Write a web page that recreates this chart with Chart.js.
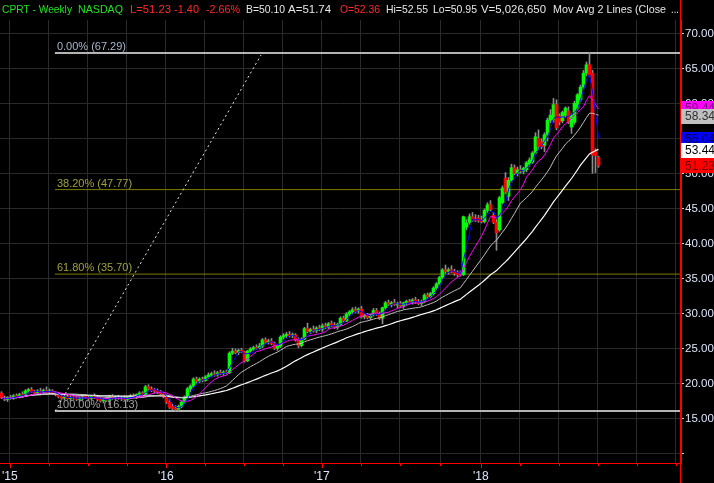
<!DOCTYPE html>
<html>
<head>
<meta charset="utf-8">
<script src="https://cdn.jsdelivr.net/npm/chart.js@4.4.0/dist/chart.umd.min.js"></script>
<style>
  html, body { margin: 0; padding: 0; background: #000; }
  #wrap { width: 714px; height: 483px; position: relative; }
</style>
</head>
<body>
<div id="wrap"><canvas id="chart"></canvas></div>
<script>
// weekly OHLC, CPRT, Dec 2014 -> Sep 2018
const openP = [
  18.7,18.0,17.8,18.1,18.0,18.3,18.2,18.5,18.4,19.0,
  19.2,18.9,18.7,19.0,18.8,19.1,18.9,19.0,18.6,18.5,
  18.2,18.0,18.2,17.9,18.1,18.0,17.8,18.0,18.2,18.0,
  17.9,18.3,18.0,17.8,17.6,17.9,17.7,18.2,18.0,18.1,
  17.9,18.0,17.8,18.1,18.3,18.2,18.5,18.7,18.3,19.6,
  19.3,19.1,19.0,18.9,18.6,18.2,17.4,16.8,16.5,16.4,
  16.8,17.4,18.1,19.3,19.7,20.7,20.4,20.7,20.5,21.0,
  21.3,21.4,21.3,21.6,21.5,21.7,21.6,24.4,24.7,24.5,
  24.8,24.6,23.3,24.7,25.0,25.2,25.1,25.4,26.3,26.0,
  26.1,25.8,25.1,25.4,26.7,26.9,27.1,26.9,27.0,26.3,
  25.5,26.4,27.9,27.5,27.8,27.6,28.0,27.8,28.3,28.1,
  28.6,28.4,28.1,28.5,29.4,29.0,30.0,30.3,30.6,30.4,
  30.7,29.6,29.8,29.5,29.9,30.5,30.0,29.4,30.9,31.6,
  31.4,31.6,31.3,31.5,31.2,31.6,31.8,31.6,32.0,31.7,
  31.5,31.8,32.7,32.5,32.9,33.7,34.3,35.2,36.3,36.1,
  36.3,36.0,35.8,36.0,35.6,42.4,43.1,43.9,43.6,43.7,
  43.5,43.2,44.8,45.6,44.1,43.1,42.0,45.9,49.4,46.8,
  49.1,50.9,50.1,50.6,50.4,50.6,51.4,51.7,53.0,55.1,
  54.6,54.1,55.6,57.7,57.7,59.9,58.3,57.6,58.4,59.0,
  56.7,57.4,59.4,60.6,62.4,64.4,65.6,64.4,53.2,52.36
];
const highP = [
  18.9,18.3,18.2,18.4,18.5,18.6,18.7,18.9,19.2,19.4,
  19.5,19.1,19.2,19.4,19.3,19.6,19.3,19.2,18.9,18.8,
  18.5,18.4,18.4,18.3,18.4,18.3,18.2,18.4,18.5,18.3,
  18.4,18.6,18.4,18.1,18.0,18.2,18.4,18.5,18.3,18.4,
  18.2,18.3,18.2,18.5,18.6,18.6,18.9,18.9,19.8,19.9,
  19.6,19.4,19.3,19.1,18.8,18.4,17.8,17.1,16.9,17.0,
  17.6,18.3,19.5,19.9,20.9,21.0,20.9,21.0,21.2,21.6,
  21.7,21.9,21.8,22.0,21.9,22.0,24.6,25.1,25.0,25.0,
  25.1,24.7,24.8,25.2,25.4,25.6,25.8,26.5,26.6,26.4,
  26.5,26.0,25.6,26.9,27.2,27.4,27.5,27.3,27.2,26.6,
  26.6,28.1,28.7,28.0,28.3,28.2,28.4,28.6,28.7,28.8,
  29.0,28.8,28.7,29.6,29.7,30.2,30.5,30.9,31.0,30.9,
  31.1,30.0,30.1,30.0,30.8,30.8,30.3,31.0,31.8,32.0,
  31.8,32.1,31.7,31.8,31.7,32.0,32.1,32.2,32.4,32.1,
  32.0,32.9,33.0,33.1,33.9,34.5,35.4,36.5,37.0,36.6,
  36.9,36.4,36.2,36.2,44.0,43.5,44.3,44.5,44.2,44.1,
  44.0,45.0,45.9,46.2,44.5,43.5,46.8,48.3,50.2,49.5,
  51.4,51.3,51.0,51.2,51.0,51.8,52.3,53.2,55.9,56.3,
  55.0,55.9,58.0,59.2,60.8,60.6,58.6,59.0,59.6,59.6,
  58.6,60.4,61.5,62.7,64.8,66.0,67.29,64.8,53.6,52.55
];
const lowP = [
  17.9,17.6,17.5,17.8,17.8,18.0,18.0,18.2,18.2,18.7,
  18.8,18.5,18.5,18.6,18.6,18.8,18.6,18.5,18.3,18.0,
  17.8,17.7,17.8,17.6,17.8,17.6,17.5,17.7,17.9,17.6,
  17.7,17.9,17.6,17.4,17.3,17.5,17.0,17.8,17.7,17.8,
  17.6,17.7,17.5,17.9,18.0,17.9,18.2,18.1,18.2,19.1,
  18.9,18.7,18.6,18.5,18.0,17.2,16.5,16.3,16.1,16.13,
  16.6,17.2,17.9,18.9,19.5,20.1,20.2,20.3,20.4,20.8,
  21.0,21.1,21.1,21.3,21.2,21.4,21.5,24.2,24.3,24.2,
  24.5,23.1,23.2,24.5,24.8,24.9,25.0,25.2,25.8,25.7,
  25.6,24.9,24.8,25.2,26.4,26.6,26.7,26.6,26.1,25.2,
  25.3,26.3,27.3,27.2,27.4,27.3,27.6,27.5,27.9,27.9,
  28.2,27.9,27.8,28.3,28.8,28.9,29.7,30.0,30.2,30.1,
  29.4,29.3,29.3,29.2,29.7,29.8,29.2,28.6,30.7,31.2,
  31.0,31.2,30.9,31.0,30.8,31.3,31.4,31.4,31.5,31.3,
  31.2,31.6,32.2,32.3,32.7,33.5,34.1,35.0,35.8,35.7,
  35.9,35.5,35.3,35.4,35.5,42.0,42.8,43.2,43.2,43.1,
  43.0,43.0,44.5,44.7,42.9,39.1,41.8,45.7,47.2,46.2,
  48.8,49.9,49.7,50.1,50.0,50.3,51.1,51.5,52.8,53.5,
  53.6,53.2,54.7,57.3,57.4,56.3,57.0,57.3,58.1,57.2,
  55.8,57.1,59.1,60.3,62.1,64.0,63.9,50.1,50.2,50.95
];
const closeP = [
  18.0,17.8,18.1,18.0,18.3,18.2,18.5,18.4,19.0,19.2,
  18.9,18.7,19.0,18.8,19.1,18.9,19.0,18.6,18.5,18.2,
  18.0,18.2,17.9,18.1,18.0,17.8,18.0,18.2,18.0,17.9,
  18.3,18.0,17.8,17.6,17.9,17.7,18.2,18.0,18.1,17.9,
  18.0,17.8,18.1,18.3,18.2,18.5,18.7,18.3,19.6,19.3,
  19.1,19.0,18.9,18.6,18.2,17.4,16.7,16.5,16.4,16.8,
  17.4,18.1,19.3,19.7,20.7,20.4,20.7,20.5,21.0,21.3,
  21.4,21.3,21.6,21.5,21.7,21.6,24.4,24.7,24.5,24.8,
  24.6,23.3,24.7,25.0,25.2,25.1,25.4,26.3,26.0,26.1,
  25.8,25.1,25.4,26.7,26.9,27.1,26.9,27.0,26.3,25.5,
  26.4,27.9,27.5,27.8,27.6,28.0,27.8,28.3,28.1,28.6,
  28.4,28.1,28.5,29.4,29.0,30.0,30.3,30.6,30.4,30.7,
  29.6,29.8,29.5,29.9,30.5,30.0,29.4,30.9,31.6,31.4,
  31.6,31.3,31.5,31.2,31.6,31.8,31.6,32.0,31.7,31.5,
  31.8,32.7,32.5,32.9,33.7,34.3,35.2,36.3,36.1,36.3,
  36.0,35.8,35.6,35.6,43.9,43.0,43.9,43.4,43.4,43.3,
  43.2,44.8,45.6,44.9,43.1,41.6,46.6,48.0,47.4,49.1,
  50.9,50.1,50.6,50.4,50.8,51.6,52.0,53.0,55.3,53.9,
  53.9,55.6,57.7,58.4,59.9,56.6,57.4,58.8,59.4,57.4,
  58.4,60.1,61.3,62.4,64.4,65.6,64.2,52.7,52.63,51.23
];

const maPeriods = [4, 10, 20, 40];
const maColors = ['#0000ff', '#ff00ff', '#c0c0c0', '#ffffff'];
const maLast = [55.04, 59.44, 58.34, 53.44];
const lastClose = 51.23;

const fibLevels = [67.29, 47.77, 35.70, 16.13];
const fibNames = ['0.00%', '38.20%', '61.80%', '100.00%'];
const fibStart = 17.8;
const trendLine = [{x: 17.9, y: 16.13}, {x: 86.5, y: 67.0}];

// week index of quarter starts, year labels on the first week of each year
const quarterTicks = [2.8, 15.8, 28.8, 41.8, 54.8, 67.8, 80.8, 93.8, 106.8, 119.8, 132.8, 146.2, 159.8, 172.8, 185.8, 198.8, 211.8, 224.8];
const yearTicks = [2.8, 54.8, 106.8, 159.8];
const yearLabels = ["'15", "'16", "'17", "'18"];
const yTicks = [10, 15, 20, 25, 30, 35, 40, 45, 50, 55, 60, 65, 70];

const FONT = 'Liberation Sans, Arial, sans-serif';

function sma(n) {
  return closeP.map((c, i) => {
    const s = Math.max(0, i - n + 1);
    let t = 0;
    for (let k = s; k <= i; k++) t += closeP[k];
    return {x: i, y: t / (i - s + 1)};
  });
}

const wickData = highP.map((h, i) => ({x: i, y: [lowP[i], h]}));
const bodyData = openP.map((o, i) => ({x: i, y: [o, closeP[i]]}));
const bodyColors = openP.map((o, i) => closeP[i] >= o ? '#00ff00' : '#ff0000');

const datasets = [];
maPeriods.forEach((n, k) => {
  datasets.push({
    type: 'line', data: sma(n), borderColor: maColors[k],
    borderWidth: k === 3 ? 1.2 : 1, pointRadius: 0, tension: 0, order: k + 1
  });
});
datasets.push({type: 'bar', data: bodyData, backgroundColor: bodyColors, barThickness: 3,
  grouped: false, minBarLength: 1, borderWidth: 0, order: 6});
datasets.push({type: 'bar', data: wickData, backgroundColor: '#8c8c8c', barThickness: 1,
  grouped: false, minBarLength: 1, borderWidth: 0, order: 7});
fibLevels.forEach((lv, k) => {
  const gray = (k === 0 || k === 3);
  datasets.push({
    type: 'line', data: [{x: fibStart, y: lv}, {x: 226.5, y: lv}],
    borderColor: gray ? '#b4b4b4' : '#7c7c00', borderWidth: gray ? 2 : 1,
    pointRadius: 0, order: 9
  });
});
datasets.push({type: 'line', data: trendLine, borderColor: '#e6e6e6', borderWidth: 1,
  borderDash: [2, 3], pointRadius: 0, order: 8});

// text, left x, max width, colour
const header = [
  ['CPRT - Weekly', 2, 70, '#22e022'], ['NASDAQ', 78, 45, '#22e022'],
  ['L=51.23', 130, 41, '#ff2a2a'], ['-1.40', 174, 25, '#ff2a2a'], ['-2.66%', 206, 34, '#ff2a2a'],
  ['B=50.10', 246, 39, '#e6e6e6'], ['A=51.74', 288, 44, '#e6e6e6'], ['O=52.36', 340, 40, '#ff2a2a'],
  ['Hi=52.55', 386, 42, '#e6e6e6'], ['Lo=50.95', 433, 44, '#e6e6e6'], ['V=5,026,650', 481, 65, '#e6e6e6'],
  ['Mov Avg 2 Lines (Close', 553, 113, '#e6e6e6'], ['...', 671, 8, '#e6e6e6']
];

const decor = {
  id: 'decor',
  beforeDatasetsDraw(chart) {
    const {ctx, scales: {x, y}} = chart;
    ctx.save();
    ctx.font = '11px ' + FONT;
    ctx.textBaseline = 'alphabetic';
    const cols = ['#a8b6cc', '#a0a040', '#a0a040', '#a0a0a0'];
    fibLevels.forEach((lv, k) => {
      ctx.fillStyle = cols[k];
      ctx.fillText(fibNames[k] + ' (' + lv.toFixed(2) + ')', x.getPixelForValue(fibStart) + 2, y.getPixelForValue(lv) - 3);
    });
    ctx.restore();
  },
  afterDraw(chart) {
    const {ctx, chartArea, scales: {x, y}} = chart;
    ctx.save();
    // header line
    ctx.font = '11.5px ' + FONT;
    ctx.textBaseline = 'alphabetic';
    header.forEach(([t, px, w, c]) => { ctx.fillStyle = c; ctx.fillText(t, px, 13, w); });
    // x tick marks
    ctx.strokeStyle = '#ff0000';
    ctx.lineWidth = 1;
    quarterTicks.forEach(v => {
      const px = Math.round(x.getPixelForValue(v)) + 0.5;
      ctx.beginPath();
      ctx.moveTo(px, chartArea.bottom);
      ctx.lineTo(px, chartArea.bottom + (yearTicks.includes(v) ? 5 : 3));
      ctx.stroke();
    });
    // right red rule, full height
    ctx.beginPath();
    ctx.moveTo(chartArea.right - 0.5, 0);
    ctx.lineTo(chartArea.right - 0.5, chart.height);
    ctx.stroke();
    // last value boxes
    const boxes = [
      [maLast[1], '#ff00ff', '#700070'], [maLast[2], '#c0c0c0', '#303030'],
      [maLast[0], '#0000ff', '#000050'], [maLast[3], '#ffffff', '#000000'],
      [lastClose, '#ff0000', '#700000']
    ];
    ctx.font = '12px ' + FONT;
    ctx.textBaseline = 'middle';
    boxes.forEach(([v, bg, fg]) => {
      const py = y.getPixelForValue(v);
      ctx.fillStyle = bg;
      ctx.fillRect(chartArea.right, Math.round(py - 7), chart.width - chartArea.right, 15);
      ctx.fillStyle = fg;
      ctx.fillText(v.toFixed(2), chartArea.right + 4, py + 1);
    });
    ctx.restore();
  }
};

new Chart(document.getElementById('chart'), {
  type: 'bar',
  data: {datasets},
  options: {
    responsive: true,
    maintainAspectRatio: false,
    animation: false,
    devicePixelRatio: 1,
    layout: {padding: {top: 20, left: 0, right: 0, bottom: 0}},
    plugins: {legend: {display: false}, tooltip: {enabled: false}},
    scales: {
      x: {
        type: 'linear', min: -0.5, max: 226.5, offset: false,
        afterBuildTicks: s => { s.ticks = quarterTicks.map(v => ({value: v})); },
        afterFit: s => { s.height = 20; s.paddingLeft = 0; s.paddingRight = 0; },
        grid: {color: '#2a2a2a', drawTicks: false, offset: false},
        border: {color: '#ff0000'},
        ticks: {
          color: '#dce6fa', font: {family: FONT, size: 12}, padding: 6,
          maxRotation: 0, autoSkip: false,
          callback: v => { const k = yearTicks.indexOf(v); return k >= 0 ? yearLabels[k] : ''; }
        }
      },
      y: {
        type: 'linear', position: 'right', min: 8.714, max: 72,
        afterBuildTicks: s => { s.ticks = yTicks.map(v => ({value: v})); },
        afterFit: s => { s.width = 33; s.paddingTop = 0; s.paddingBottom = 0; },
        grid: {color: '#2a2a2a', tickLength: 3, tickColor: '#c8d0e0'},
        border: {color: '#ff0000'},
        ticks: {
          color: '#dce6fa', font: {family: FONT, size: 11.5}, padding: 1,
          callback: v => v === 10 ? '' : v.toFixed(2)
        }
      }
    }
  },
  plugins: [decor]
});
</script>
</body>
</html>
